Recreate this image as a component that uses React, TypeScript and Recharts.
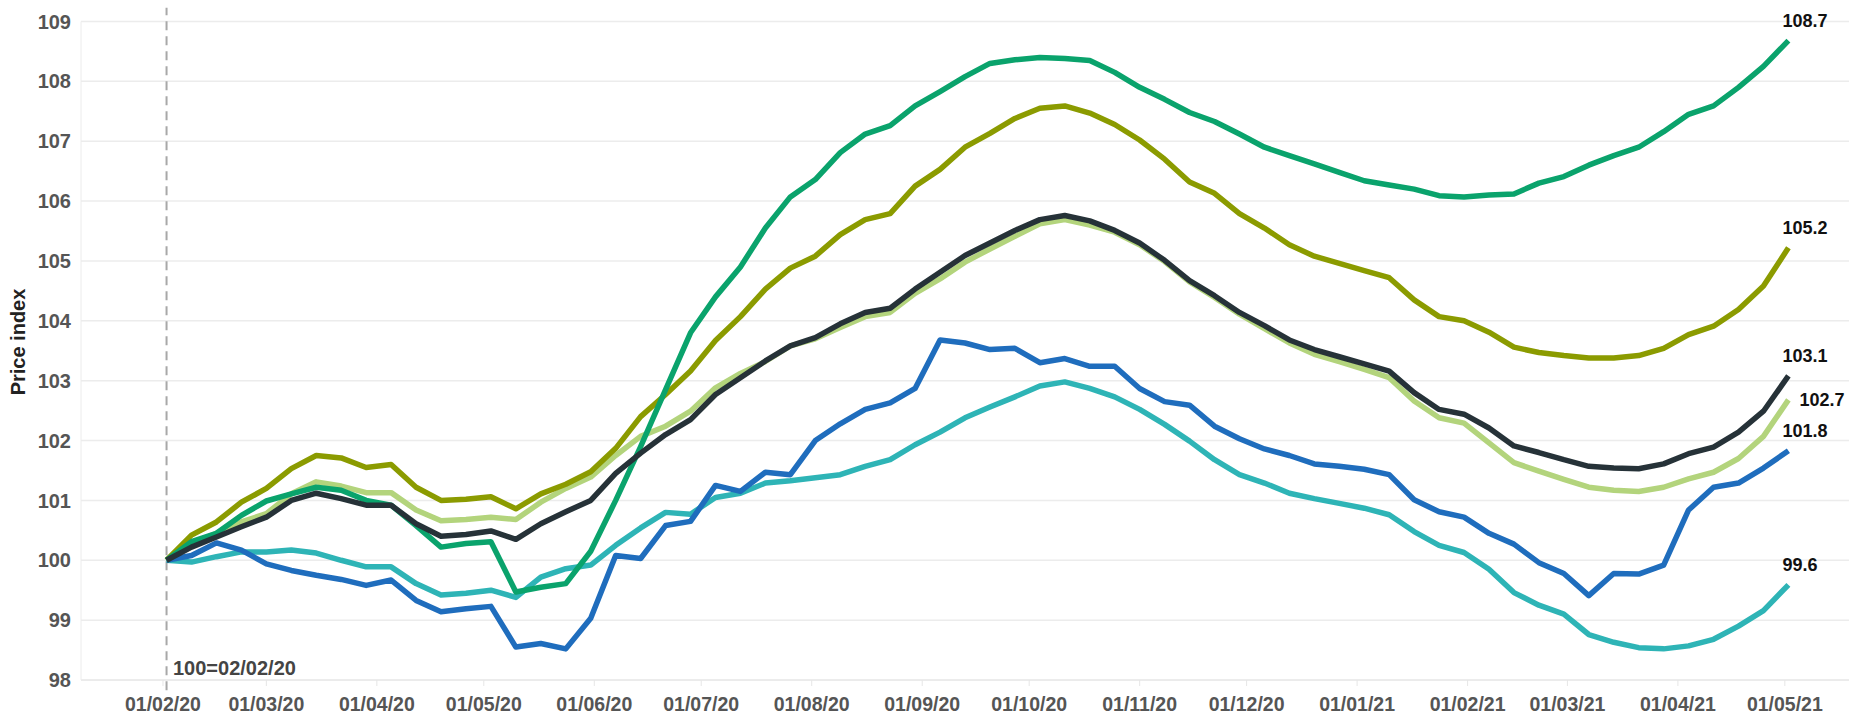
import React from 'react';
import { CartesianGrid, Customized, Line, LineChart, ReferenceLine, XAxis, YAxis } from 'recharts';

const FONT = 'Arial, "Liberation Sans", Helvetica, sans-serif';

// weekly index, first point is 02/02/20 (day 0)
const weekCount = 66;
const weekDays = Array.from({ length: weekCount }, (_, i) => i * 7);

const monthTickDays = [-1, 28, 59, 89, 120, 150, 181, 212, 242, 273, 303, 334, 365, 393, 424, 454];
const monthTickLabels = [
  '01/02/20', '01/03/20', '01/04/20', '01/05/20', '01/06/20', '01/07/20', '01/08/20', '01/09/20',
  '01/10/20', '01/11/20', '01/12/20', '01/01/21', '01/02/21', '01/03/21', '01/04/21', '01/05/21',
];
const yTicks = [98, 99, 100, 101, 102, 103, 104, 105, 106, 107, 108, 109];

const greenValues = [
  100, 100.31, 100.45, 100.75, 100.99, 101.11, 101.22, 101.17, 101.0, 100.92, 100.58, 100.22, 100.28, 100.31,
  99.47, 99.55, 99.61, 100.15, 101.0, 101.9, 102.85, 103.8, 104.4, 104.9, 105.55, 106.07, 106.36, 106.81,
  107.12, 107.26, 107.59, 107.83, 108.08, 108.3, 108.36, 108.4, 108.38, 108.35, 108.15, 107.9, 107.7, 107.48,
  107.33, 107.12, 106.9, 106.76, 106.62, 106.48, 106.34, 106.27, 106.2, 106.09, 106.07, 106.1, 106.12, 106.3,
  106.41, 106.6, 106.76, 106.9, 107.16, 107.45, 107.59, 107.9, 108.25, 108.68,
];
const oliveValues = [
  100, 100.42, 100.64, 100.97, 101.2, 101.53, 101.75, 101.71, 101.55, 101.6, 101.22, 101.0, 101.02, 101.06,
  100.86, 101.11, 101.27, 101.48, 101.87, 102.4, 102.77, 103.16, 103.67, 104.07, 104.53, 104.88, 105.08, 105.44,
  105.69, 105.79, 106.25, 106.53, 106.9, 107.13, 107.38, 107.55, 107.59, 107.47, 107.28, 107.02, 106.7, 106.32,
  106.13, 105.79, 105.55, 105.27, 105.08, 104.96, 104.84, 104.72, 104.35, 104.07, 104.0, 103.81, 103.56, 103.47,
  103.42, 103.38, 103.38, 103.42, 103.54, 103.77, 103.91, 104.19, 104.58, 105.22,
];
const darkValues = [
  100, 100.22, 100.39, 100.56, 100.72, 101.0, 101.12, 101.03, 100.92, 100.92, 100.61, 100.4, 100.43, 100.49,
  100.35, 100.61, 100.81, 101.0, 101.45, 101.79, 102.1, 102.35, 102.77, 103.05, 103.33, 103.58, 103.72, 103.95,
  104.14, 104.21, 104.53, 104.81, 105.09, 105.3, 105.51, 105.69, 105.76, 105.67, 105.51, 105.3, 105.01, 104.67,
  104.42, 104.14, 103.92, 103.68, 103.52, 103.4, 103.28, 103.16, 102.8, 102.52, 102.44, 102.21, 101.91, 101.8,
  101.68, 101.57, 101.54, 101.53, 101.61, 101.78, 101.89, 102.14, 102.49, 103.08,
];
const lightGreenValues = [
  100, 100.28, 100.45, 100.64, 100.78, 101.11, 101.31, 101.24, 101.13, 101.13, 100.84, 100.66, 100.68, 100.72,
  100.68, 100.97, 101.2, 101.39, 101.75, 102.07, 102.24, 102.49, 102.88, 103.12, 103.32, 103.58, 103.7, 103.89,
  104.07, 104.14, 104.46, 104.7, 104.98, 105.2, 105.41, 105.62, 105.69, 105.6, 105.48, 105.27, 104.99, 104.65,
  104.39, 104.11, 103.87, 103.63, 103.44, 103.32, 103.19, 103.05, 102.66, 102.38, 102.29, 101.96, 101.63, 101.49,
  101.35, 101.22, 101.17, 101.15, 101.22, 101.36, 101.47, 101.7, 102.07, 102.68,
];
const blueValues = [
  100, 100.08, 100.29, 100.17, 99.94, 99.83, 99.75, 99.68, 99.58, 99.67, 99.33, 99.14, 99.19, 99.23,
  98.55, 98.61, 98.52, 99.03, 100.08, 100.03, 100.58, 100.65, 101.25, 101.15, 101.47, 101.43, 102.0, 102.28,
  102.52, 102.63, 102.87, 103.68, 103.63, 103.52, 103.54, 103.3, 103.37, 103.24, 103.24, 102.87, 102.65, 102.59,
  102.24, 102.03, 101.86, 101.75, 101.61, 101.57, 101.52, 101.43, 101.01, 100.81, 100.72, 100.45, 100.27, 99.96,
  99.78, 99.41, 99.78, 99.77, 99.92, 100.84, 101.22, 101.29, 101.54, 101.83,
];
const tealValues = [
  100, 99.97, 100.06, 100.14, 100.14, 100.17, 100.12, 100.0, 99.89, 99.89, 99.61, 99.42, 99.45, 99.5,
  99.38, 99.72, 99.86, 99.92, 100.25, 100.54, 100.8, 100.77, 101.05, 101.12, 101.29, 101.33, 101.38, 101.43,
  101.57, 101.68, 101.93, 102.14, 102.38, 102.56, 102.73, 102.91, 102.98, 102.87, 102.73, 102.52, 102.27, 101.99,
  101.68, 101.43, 101.29, 101.12, 101.03, 100.95, 100.87, 100.76, 100.48, 100.25, 100.13, 99.85, 99.46, 99.25,
  99.1, 98.76, 98.63, 98.54, 98.52, 98.57, 98.68, 98.9, 99.16, 99.59,
];

// draw order: last one ends up on top
const SERIES = [
  { key: 'lightGreen', color: '#b3d47c', values: lightGreenValues, labelSide: 'right' },
  { key: 'teal', color: '#2eb4b6', values: tealValues, labelSide: 'top' },
  { key: 'blue', color: '#1f6dbd', values: blueValues, labelSide: 'top' },
  { key: 'olive', color: '#8b9b00', values: oliveValues, labelSide: 'top' },
  { key: 'green', color: '#0aa36c', values: greenValues, labelSide: 'top' },
  { key: 'dark', color: '#263238', values: darkValues, labelSide: 'top' },
];

const chartData = weekDays.map((day, i) => {
  const row: Record<string, number> = { day };
  SERIES.forEach(s => { row[s.key] = s.values[i]; });
  return row;
});

const tickLabel = (day: number) => {
  const idx = monthTickDays.indexOf(day);
  return idx >= 0 ? monthTickLabels[idx] : '';
};

const endLabel = (side: string) => (props: any) => {
  const { x, y, index, value } = props;
  if (index !== weekCount - 1 || x == null) return null;
  const text = Number(value).toFixed(1);
  if (side === 'right') {
    return (
      <text x={x + 11} y={y + 6} fontFamily={FONT} fontSize={18} fontWeight="bold" fill="#111">{text}</text>
    );
  }
  return (
    <text x={x - 6} y={y - 14} fontFamily={FONT} fontSize={18} fontWeight="bold" fill="#111">{text}</text>
  );
};

const Annotations = () => (
  <g>
    <text x={25} y={342} transform="rotate(-90 25 342)" textAnchor="middle" fontFamily={FONT} fontSize={20} fontWeight="bold" fill="#222">
      Price index
    </text>
    <text x={173} y={675} fontFamily={FONT} fontSize={20} fontWeight="bold" fill="#444">
      100=02/02/20
    </text>
  </g>
);

const App: React.FC = () => {
  return (
    <div style={{ position: 'absolute', left: 0, top: 0, background: '#fff' }}>
      <LineChart width={1849} height={714} data={chartData} margin={{ top: 21.5, right: 0, left: 0, bottom: 0 }}>
        <CartesianGrid vertical={false} stroke="#ececec" strokeWidth={1.5} />
        <XAxis
          dataKey="day"
          type="number"
          domain={[-24, 472]}
          allowDataOverflow
          ticks={monthTickDays}
          tickFormatter={tickLabel}
          height={34}
          tickSize={6}
          tickMargin={11}
          axisLine={{ stroke: '#e6e6e6' }}
          tickLine={{ stroke: '#e6e6e6' }}
          tick={{ fontFamily: FONT, fontSize: 19.5, fontWeight: 'bold', fill: '#555' }}
        />
        <YAxis
          type="number"
          domain={[98, 109]}
          allowDataOverflow
          ticks={yTicks}
          width={81}
          tickLine={false}
          tickSize={6}
          tickMargin={4}
          axisLine={{ stroke: '#ececec' }}
          tick={{ fontFamily: FONT, fontSize: 20, fontWeight: 'bold', fill: '#555' }}
        />
        <ReferenceLine
          segment={[{ x: 0, y: 97.83 }, { x: 0, y: 109.23 }]}
          stroke="#a8a8a8"
          strokeWidth={2}
          strokeDasharray="9 6"
          ifOverflow="visible"
        />
        {SERIES.map(s => (
          <Line
            key={s.key}
            type="linear"
            dataKey={s.key}
            stroke={s.color}
            strokeWidth={5.5}
            strokeLinejoin="round"
            dot={false}
            activeDot={false}
            isAnimationActive={false}
            label={endLabel(s.labelSide)}
          />
        ))}
        <Customized component={Annotations} />
      </LineChart>
    </div>
  );
};

export default App;
